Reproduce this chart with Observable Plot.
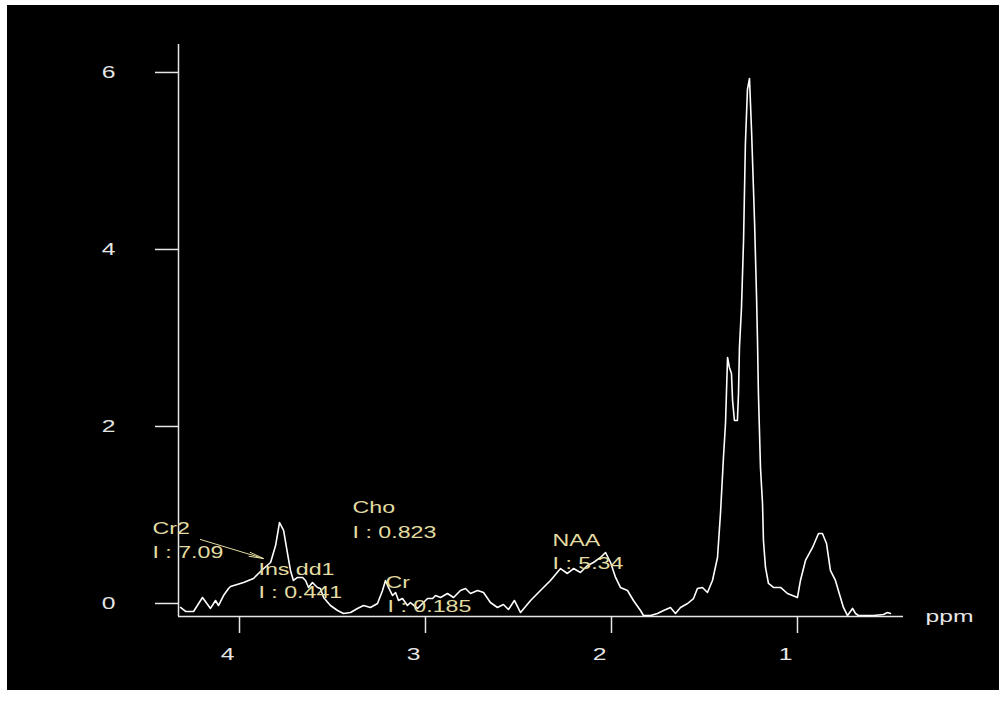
<!DOCTYPE html>
<html>
<head>
<meta charset="utf-8">
<script src="https://cdn.jsdelivr.net/npm/d3@7"></script>
<script src="https://cdn.jsdelivr.net/npm/@observablehq/plot@0.6"></script>
<style>
  html, body { margin: 0; padding: 0; background: #ffffff; }
  #wrap { position: absolute; left: 7px; top: 5px; width: 992px; height: 685px; background: #000; }
</style>
</head>
<body>
<div id="wrap"></div>
<script>
// Spectrum (chemical shift in ppm, intensity)
const ppm = [4.317,4.290,4.247,4.199,4.156,4.129,4.113,4.086,4.059,4.048,3.978,3.925,3.876,3.833,3.806,3.785,3.763,3.742,3.726,3.710,3.688,3.661,3.645,3.629,3.608,3.581,3.565,3.548,3.511,3.473,3.441,3.403,3.366,3.333,3.296,3.258,3.231,3.215,3.199,3.177,3.161,3.145,3.124,3.097,3.081,3.043,3.016,2.989,2.962,2.946,2.919,2.882,2.849,2.812,2.785,2.758,2.720,2.688,2.651,2.613,2.581,2.554,2.522,2.489,2.435,2.382,2.328,2.274,2.237,2.204,2.167,2.129,2.097,2.059,2.032,2.005,1.978,1.952,1.914,1.882,1.844,1.828,1.790,1.753,1.720,1.683,1.656,1.629,1.591,1.559,1.538,1.511,1.484,1.457,1.430,1.414,1.398,1.387,1.382,1.376,1.366,1.355,1.349,1.339,1.323,1.317,1.312,1.301,1.290,1.280,1.269,1.258,1.247,1.231,1.220,1.215,1.210,1.199,1.188,1.183,1.172,1.156,1.129,1.091,1.054,1.000,0.984,0.957,0.919,0.887,0.866,0.844,0.823,0.796,0.769,0.753,0.731,0.704,0.688,0.672,0.591,0.538,0.516,0.500];
const intensity = [-0.045,-0.090,-0.090,0.068,-0.056,0.034,-0.023,0.090,0.169,0.192,0.237,0.282,0.384,0.463,0.655,0.915,0.825,0.565,0.373,0.260,0.294,0.294,0.260,0.181,0.237,0.181,0.169,0.068,-0.023,-0.079,-0.113,-0.102,-0.056,-0.023,-0.045,0.000,0.147,0.260,0.181,0.090,0.124,0.034,0.056,-0.023,0.011,-0.056,0.000,0.056,0.056,0.090,0.068,0.113,0.068,0.147,0.169,0.113,0.147,0.124,0.011,-0.045,-0.011,-0.068,0.034,-0.102,0.034,0.147,0.260,0.395,0.339,0.395,0.350,0.429,0.463,0.520,0.576,0.463,0.294,0.181,0.147,0.034,-0.079,-0.136,-0.136,-0.113,-0.079,-0.045,-0.113,-0.045,0.000,0.056,0.169,0.181,0.124,0.260,0.520,1.017,1.650,2.034,2.373,2.780,2.667,2.599,2.294,2.068,2.068,2.384,2.893,3.345,4.102,5.198,5.808,5.932,5.345,4.328,3.458,2.972,2.373,1.537,1.130,0.712,0.407,0.226,0.181,0.181,0.113,0.068,0.260,0.486,0.633,0.791,0.791,0.678,0.373,0.260,0.068,-0.045,-0.136,-0.056,-0.113,-0.136,-0.136,-0.124,-0.102,-0.113];

// Axes
const xDomain = [4.328, 0.430];
const yDomain = [-0.147, 6.316];
const xTicks = [4, 3, 2, 1];
const yTicks = [0, 2, 4, 6];

// Metabolite annotations
const annText = ["Cr2", "I : 7.09", "Cho", "I : 0.823", "Ins dd1", "I : 0.441", "Cr", "I : 0.185", "NAA", "I : 5.34"];
const annPpm  = [4.468, 4.468, 3.392, 3.392, 3.898, 3.898, 3.215, 3.204, 2.317, 2.317];
const annVal  = [0.847, 0.576, 1.085, 0.802, 0.384, 0.124, 0.237, -0.034, 0.712, 0.452];

// Arrow from the Cr2 label
const arrowFrom = {ppm: 4.210, val: 0.723};
const arrowTo   = {ppm: 3.871, val: 0.508};

const spectrum = ppm.map((p, i) => ({ppm: p, v: intensity[i]}));
const ann = annText.map((t, i) => ({t, ppm: annPpm[i], v: annVal[i]}));

const axisColor = "#e6e6e6";
const annColor = "#e2dca0";
const intFmt = d3.format("d");

const chart = Plot.plot({
  width: 992,
  height: 685,
  marginLeft: 171,
  marginRight: 96,
  marginTop: 39,
  marginBottom: 74,
  style: {background: "#000", color: axisColor, fontFamily: "'Liberation Sans', Arial, sans-serif", fontSize: "16px"},
  x: {domain: xDomain, label: null},
  y: {domain: yDomain, label: null},
  marks: [
    Plot.ruleY([yDomain[0]], {stroke: axisColor, strokeWidth: 1.5}),
    Plot.ruleX([xDomain[0]], {stroke: axisColor, strokeWidth: 1.5}),
    Plot.axisX({ticks: xTicks, tickSize: 17, tickFormat: () => "", label: null, stroke: axisColor, strokeWidth: 1.5}),
    Plot.axisX({ticks: xTicks, tickSize: 0, tickPadding: 31, dx: -12, tickFormat: intFmt, label: null, fill: axisColor, fontSize: 17}),
    Plot.axisY({ticks: yTicks, tickSize: 23, tickPadding: 40, tickFormat: intFmt, label: null, stroke: axisColor, strokeWidth: 1.5, fill: axisColor, fontSize: 17}),
    Plot.line(spectrum, {x: "ppm", y: "v", stroke: "#ffffff", strokeWidth: 1.6}),
    Plot.arrow([0], {x1: () => arrowFrom.ppm, y1: () => arrowFrom.val, x2: () => arrowTo.ppm, y2: () => arrowTo.val, stroke: annColor, strokeWidth: 1, headAngle: 16, headLength: 22}),
    Plot.text(ann, {x: "ppm", y: "v", text: "t", fill: annColor, textAnchor: "start", lineAnchor: "middle", fontSize: 16}),
    Plot.text(["ppm"], {frameAnchor: "bottom-right", dx: 22, dy: 0, textAnchor: "start", lineAnchor: "middle", fill: axisColor, fontSize: 17})
  ]
});

// horizontally widen the glyphs as in the reference rendering
chart.querySelectorAll("text").forEach(t => {
  const tr = t.getAttribute("transform") || "";
  t.setAttribute("transform", tr + " scale(1.45,1)");
});

document.getElementById("wrap").appendChild(chart);
</script>
</body>
</html>
